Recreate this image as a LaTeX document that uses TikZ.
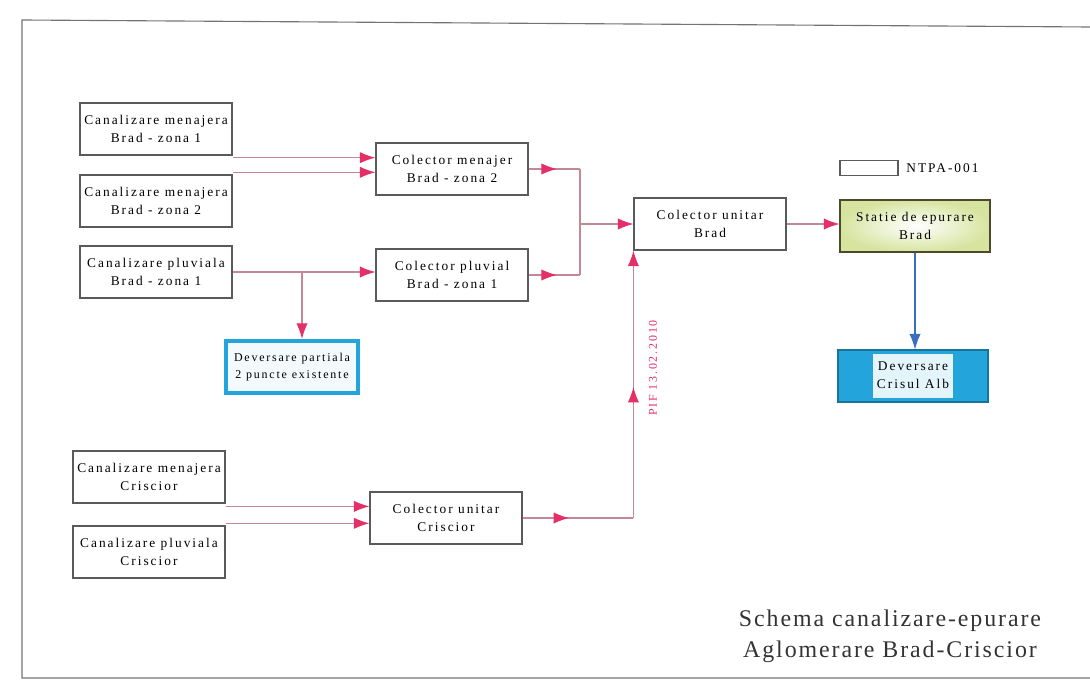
\documentclass[tikz,border=0pt]{standalone}
\usepackage{fontspec}
\setmainfont{Liberation Serif}
\newfontfamily\boxfont[LetterSpace=15]{Liberation Serif}
\newfontfamily\titlefont[LetterSpace=8]{Liberation Serif}
\usetikzlibrary{arrows.meta}
\usetikzlibrary{decorations.markings}
\definecolor{tipred}{RGB}{228,48,102}
\definecolor{linered}{RGB}{196,135,150}
\definecolor{boxgray}{RGB}{90,90,90}
\definecolor{devcyan}{RGB}{35,165,220}
\definecolor{outblue}{RGB}{60,110,190}
\definecolor{stgreen}{RGB}{215,228,160}
\tikzset{
  unit/.style={draw=boxgray, line width=0.8pt, fill=white, minimum width=3.8cm,
    minimum height=1.3cm, align=center, inner sep=1pt,
    font=\boxfont\fontsize{9.5}{12.5}\selectfont},
  pipe/.style={draw=linered, line width=0.8pt},
  flow/.style={pipe, -{Latex[length=11pt,width=8pt,color=tipred]}},
  midtip/.style={postaction={decorate}, decoration={markings,
    mark=at position #1 with {\arrow{Latex[length=11pt,width=8pt,color=tipred]}}}},
}

\begin{document}
\begin{tikzpicture}[x=0.025cm, y=-0.025cm]
    \useasboundingbox (0,0) rectangle (1090,682);
    \draw[black!55, line width=0.8pt] (1090,27) -- (22,20) -- (22,678) -- (1090,678);

    % Brad
    \node[unit] (cmz1) at (156,129) {Canalizare menajera\\Brad - zona 1};
    \node[unit] (cmz2) at (156,201) {Canalizare menajera\\Brad - zona 2};
    \node[unit] (cpz1) at (156,272) {Canalizare pluviala\\Brad - zona 1};
    \node[unit] (cmB) at (452,169) {Colector menajer\\Brad - zona 2};
    \node[unit] (cpB) at (452,275) {Colector pluvial\\Brad - zona 1};
    \node[unit, draw=devcyan, line width=3pt, minimum width=3.3cm, fill=devcyan!6,
        font=\boxfont\fontsize{8.5}{12.5}\selectfont] (devp) at (292,367)
        {Deversare partiala\\2 puncte existente};
    \node[unit] (cuB) at (710,224) {Colector unitar\\Brad};
    \node[unit, draw=black!60!olive, inner color=white, outer color=stgreen,
        minimum width=3.75cm] (stB) at (915,226) {Statie de epurare\\Brad};
    \node[unit, fill=devcyan, draw=devcyan!70!black, minimum width=3.75cm] (devC) at (913,376)
        {\colorbox{devcyan!12}{\begin{tabular}{@{}c@{}}Deversare\\Crisul Alb\end{tabular}}};

    % legenda
    \node[draw=boxgray, line width=0.8pt, minimum width=1.45cm, minimum height=0.38cm,
        inner sep=0pt] (leg) at (869,168) {};
    \node[anchor=west, font=\boxfont\fontsize{9.5}{12}\selectfont] (legtxt)
        at ([xshift=2pt]leg.east) {NTPA-001};

    % Criscior
    \node[unit] (cmC) at (149,477) {Canalizare menajera\\Criscior};
    \node[unit] (cpC) at (149,552) {Canalizare pluviala\\Criscior};
    \node[unit] (cuC) at (446,518) {Colector unitar\\Criscior};

    \coordinate (o1) at ([yshift=-1.5pt]cmz1.south east);
    \coordinate (o2) at ([yshift=1.5pt]cmz2.north east);
    \draw[flow] (o1) -- (o1 -| cmB.west);
    \draw[flow] (o2) -- (o2 -| cmB.west);
    \draw[flow] (cpz1.east) -- (cpz1.east -| cpB.west);
    \coordinate (br) at (302,272);
    \draw[flow] (br) -- (br |- devp.north);

    \coordinate (jB) at (580,224);
    \draw[pipe, midtip=0.55] (cmB.east) -- (cmB.east -| jB);
    \draw[pipe] (cmB.east -| jB) -- (cpB.east -| jB);
    \draw[pipe, midtip=0.55] (cpB.east) -- (cpB.east -| jB);
    \draw[flow] (jB) -- (cuB.west);
    \draw[flow] (cuB.east) -- (cuB.east -| stB.west);
    \draw[outblue, line width=0.8pt, -{Latex[length=11pt,width=8pt]}]
        (stB.south) -- (stB.south |- devC.north);

    \coordinate (o3) at ([yshift=-2pt]cmC.south east);
    \coordinate (o4) at ([yshift=1.5pt]cpC.north east);
    \draw[flow] (o3) -- (o3 -| cuC.west);
    \draw[flow] (o4) -- (o4 -| cuC.west);
    \draw[pipe, midtip=0.42] (cuC.east) -- (cuC.east -| cuB.south west);
    \draw[flow, midtip=0.49] (cuC.east -| cuB.south west) -- (cuB.south west);
    \node[rotate=90, text=tipred, font=\boxfont\fontsize{8.5}{9}\selectfont] (pif)
        at (653,368) {PIF 13.02.2010};

    \node[font=\titlefont\fontsize{17}{22}\selectfont, text=black!80, align=center] (title)
        at (890,636) {Schema canalizare-epurare\\Aglomerare Brad-Criscior};
\end{tikzpicture}
\end{document}
